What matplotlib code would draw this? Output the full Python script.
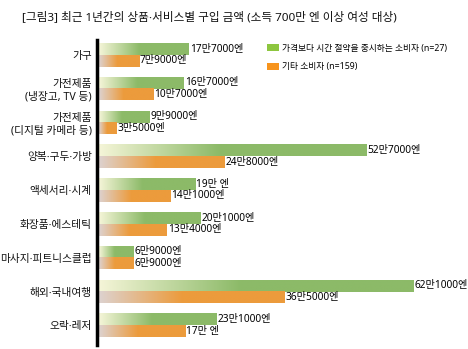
import numpy as np
import matplotlib
matplotlib.use("Agg")
import matplotlib.pyplot as plt
from matplotlib.patches import Patch
from matplotlib.colors import to_rgb

# Noto Sans first so that digits and the middle dot stay narrow, Hangul falls back to CJK
plt.rcParams['font.family'] = ['Noto Sans', 'Noto Sans CJK KR', 'DejaVu Sans']

# data (values in 만 엔)
categories = ["가구", "가전제품\n(냉장고, TV 등)", "가전제품\n(디지털 카메라 등)", "양복·구두·가방",
              "액세서리·시계", "화장품·에스테틱", "마사지·피트니스클럽", "해외·국내여행", "오락·레저"]
time_saver = [17.7, 16.7, 9.9, 52.7, 19.0, 20.1, 6.9, 62.1, 23.1]
others = [7.9, 10.7, 3.5, 24.8, 14.1, 13.4, 6.9, 36.5, 17.0]
time_saver_labels = ["17만7000엔", "16만7000엔", "9만9000엔", "52만7000엔", "19만 엔",
                     "20만1000엔", "6만9000엔", "62만1000엔", "23만1000엔"]
others_labels = ["7만9000엔", "10만7000엔", "3만5000엔", "24만8000엔", "14만1000엔",
                 "13만4000엔", "6만9000엔", "36만5000엔", "17만 엔"]
legend_labels = ["가격보다 시간 절약을 중시하는 소비자 (n=27)", "기타 소비자 (n=159)"]

green_start, green_end = to_rgb("#f5f5d8"), to_rgb("#8cba68")
orange_start, orange_end = to_rgb("#ddd2cf"), to_rgb("#ec9b3c")

fig = plt.figure(figsize=(4.68, 3.49), dpi=100)
ax = fig.add_axes([99 / 468, 1 - 345 / 349, 369 / 468, 305 / 349])

bar_h = 0.345


def gradient_bar(y, v, c0, c1):
    # fade from light colour to full colour over the first part of the bar
    t = np.clip(np.linspace(0, 1, 256) / 0.45, 0, 1)
    c0, c1 = np.array(c0), np.array(c1)
    img = (c0[None, :] * (1 - t[:, None]) + c1[None, :] * t[:, None])[None, :, :]
    ax.imshow(img, extent=(0, v, y + bar_h / 2, y - bar_h / 2), aspect='auto',
              interpolation='bilinear', zorder=2)


for i in range(len(categories)):
    yg = i - bar_h / 2
    yo = i + bar_h / 2
    gradient_bar(yg, time_saver[i], green_start, green_end)
    gradient_bar(yo, others[i], orange_start, orange_end)
    ax.text(time_saver[i] + 0.2, yg, time_saver_labels[i], va='center', ha='left',
            fontsize=7.3, color='#000000')
    ax.text(others[i] + 0.2, yo, others_labels[i], va='center', ha='left',
            fontsize=7.3, color='#000000')

ax.set_xlim(0, 369 / 5.07)
ax.set_ylim(8.58, -0.44)
ax.set_yticks(range(len(categories)))
ax.set_yticklabels(categories)
ax.tick_params(axis='y', length=0, pad=4, labelsize=7.7, labelcolor='#111111')
for lbl in ax.get_yticklabels():
    lbl.set_linespacing(1.15)
ax.set_xticks([])
for s in ['top', 'right', 'bottom']:
    ax.spines[s].set_visible(False)
ax.spines['left'].set_linewidth(2.5)
ax.spines['left'].set_position(('data', -0.3))

handles = [Patch(facecolor='#8dc63f', edgecolor='none'), Patch(facecolor='#f7941d', edgecolor='none')]
fig.legend(handles, legend_labels, loc='upper left', bbox_to_anchor=(264 / 468, 1 - 41 / 349),
           frameon=False, fontsize=6.3, handlelength=1.4, handleheight=0.9,
           handletextpad=0.35, labelspacing=1.1, borderaxespad=0, borderpad=0.3)

fig.text(22 / 468, 1 - 17 / 349, "[그림3] 최근 1년간의 상품·서비스별 구입 금액 (소득 700만 엔 이상 여성 대상)",
         fontsize=8.4, va='center', ha='left', color='#111111')

fig.savefig("out.png", dpi=100)
